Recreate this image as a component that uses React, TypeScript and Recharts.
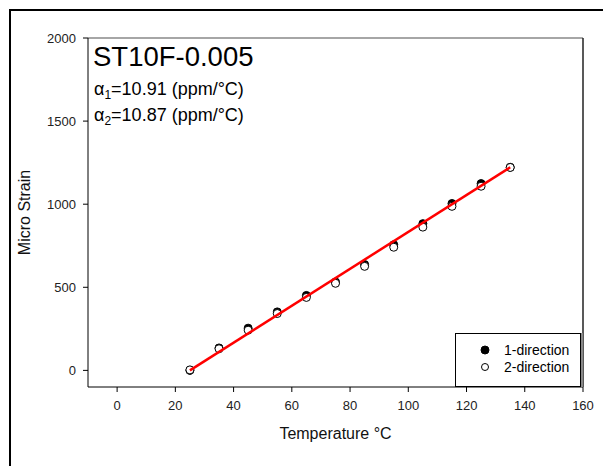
import React from 'react';
import { ScatterChart, Scatter, XAxis, YAxis, ReferenceLine } from 'recharts';

const temps = [25, 35, 45, 55, 65, 75, 85, 95, 105, 115, 125, 135];
const dir1 = [0, 135, 254, 352, 451, 532, 637, 756, 883, 1004, 1124, 1222];
const dir2 = [3, 130, 242, 342, 439, 524, 626, 741, 862, 987, 1108, 1221];
const fitTemps = [25, 135];
const fitValues = [0, 1222];
const xTicks = [0, 20, 40, 60, 80, 100, 120, 140, 160];
const yTicks = [0, 500, 1000, 1500, 2000];
const seriesNames = ['1-direction', '2-direction'];

const data1 = temps.map((t, i) => ({ x: t, y: dir1[i] }));
const data2 = temps.map((t, i) => ({ x: t, y: dir2[i] }));
const fitData = fitTemps.map((t, i) => ({ x: t, y: fitValues[i] }));

const FONT = 'Arial, "Liberation Sans", sans-serif';

const Filled = (p: any) => <circle cx={p.cx} cy={p.cy} r={4} fill="#000" stroke="#000" strokeWidth={1} />;
const Open = (p: any) => <circle cx={p.cx} cy={p.cy} r={4} fill="#fff" stroke="#000" strokeWidth={1} />;
const NoShape = () => <g />;

export default function App() {
  return (
    <div style={{ position: 'absolute', left: 0, top: 0, width: 603, height: 466, overflow: 'hidden', background: '#fff', fontFamily: FONT }}>
      <div style={{ position: 'absolute', left: 9, top: 9, width: 700, height: 600, borderTop: '2px solid #000', borderLeft: '2px solid #000' }} />
      <div style={{ position: 'absolute', left: 0, top: 0 }}>
        <ScatterChart width={603} height={466} margin={{ top: 38, right: 20, bottom: 39, left: 28 }}>
          <XAxis
            type="number"
            dataKey="x"
            domain={[-10, 160]}
            ticks={xTicks}
            height={40}
            tickSize={5}
            tickMargin={9}
            stroke="#000"
            tick={{ fill: '#222', fontSize: 13, fontFamily: FONT }}
            label={{ value: 'Temperature °C', position: 'bottom', offset: 1, style: { fill: '#111', fontSize: 16, fontFamily: FONT } }}
          />
          <YAxis
            type="number"
            dataKey="y"
            domain={[-100, 2000]}
            ticks={yTicks}
            width={60}
            tickSize={5}
            tickMargin={7}
            stroke="#000"
            tick={{ fill: '#222', fontSize: 13, fontFamily: FONT }}
            label={{ value: 'Micro Strain', angle: -90, position: 'insideLeft', offset: -4, style: { textAnchor: 'middle', fill: '#111', fontSize: 16, fontFamily: FONT } }}
          />
          <ReferenceLine y={2000} stroke="#888" strokeWidth={1.5} />
          <ReferenceLine x={160} stroke="#222" strokeWidth={1.5} />
          <Scatter name={seriesNames[0]} data={data1} shape={Filled} isAnimationActive={false} />
          <Scatter name={seriesNames[1]} data={data2} shape={Open} isAnimationActive={false} />
          <Scatter name="fit" data={fitData} shape={NoShape} line={{ stroke: '#ff0000', strokeWidth: 2.5 }} isAnimationActive={false} />
        </ScatterChart>
      </div>
      <svg width={603} height={466} style={{ position: 'absolute', left: 0, top: 0, pointerEvents: 'none' }}>
        <text x={93} y={66} fontSize={27.5} fontFamily={FONT} fill="#000">ST10F-0.005</text>
        <text x={94} y={95} fontSize={18} fontFamily={FONT} fill="#000">
          α<tspan fontSize={12} dy={4}>1</tspan><tspan dy={-4}>=10.91 (ppm/°C)</tspan>
        </text>
        <text x={94} y={121} fontSize={18} fontFamily={FONT} fill="#000">
          α<tspan fontSize={12} dy={4}>2</tspan><tspan dy={-4}>=10.87 (ppm/°C)</tspan>
        </text>
      </svg>
      <div style={{ position: 'absolute', left: 455, top: 333, width: 124, height: 52, border: '1px solid #000', boxShadow: '2px 0 0 #888', background: '#fff' }} />
      <svg width={603} height={466} style={{ position: 'absolute', left: 0, top: 0, pointerEvents: 'none' }}>
        <circle cx={485} cy={350} r={4} fill="#000" stroke="#000" />
        <text x={504} y={355} fontSize={14} fontFamily={FONT} fill="#000">{seriesNames[0]}</text>
        <circle cx={485} cy={367} r={3.5} fill="#fff" stroke="#000" />
        <text x={504} y={372} fontSize={14} fontFamily={FONT} fill="#000">{seriesNames[1]}</text>
      </svg>
    </div>
  );
}
